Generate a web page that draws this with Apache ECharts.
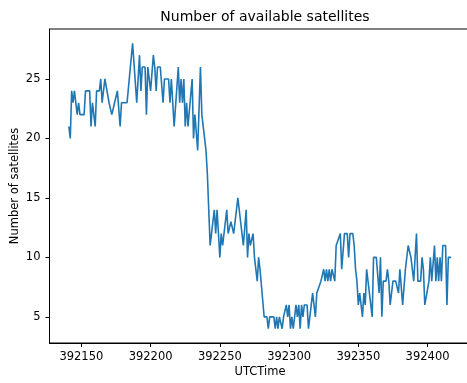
<!DOCTYPE html>
<html>
<head>
<meta charset="utf-8">
<script src="https://cdn.jsdelivr.net/npm/echarts@6/dist/echarts.min.js"></script>
<style>html,body{margin:0;padding:0;background:#fff}#c{width:467px;height:383px}</style>
</head>
<body>
<div id="c"></div>
<script>
// UTCTime (seconds) and number of satellites
var times = [
392141,392142,392143,392144,392145,392146,392147,392148,392149,392152,392153,392156,392157,392158,392160,392161,392163,392164,392165,392167,392168,392170,392172,392173,392174,392176,392178,392179,392183,392187,392190,392192,392193,392194,392196,392197,392198,392199,392200,392202,392203,392204,392205,392207,392209,392210,392213,392214,392215,392217,392218,392220,392221,392222,392223,392224,392225,392226,392227,392230,392231,392232,392234,392236,392237,392239,392240,392241,392242,392243,
392244,392245,392246,392247,392248,392250,392251,392252,392255,392256,392258,392259,392260,392263,392264,392267,392269,392270,392271,392272,392274,392275,392276,392277,392278,392279,392280,392282,392284,392285,392286,392289,392290,392291,392292,392293,392295,392296,392297,392298,392299,392300,392301,392302,392303,392304,392305,392306,392307,392308,392309,392310,392311,392313,392314,392315,392316,392317,392319,392320,392321,392323,392324,392325,392326,392327,392328,392329,392330,392331,392332,392333,392334,392335,392337,392338,392339,392340,392342,392343,392344,392346,392347,392348,392349,392350,392351,392352,392353,392354,392355,392356,392357,392358,392360,392361,392363,392365,392366,392367,392368,392370,392371,392372,392373,392375,392377,392379,392380,392381,392382,392384,392385,392386,392388,392389,392390,392392,392393,392395,392396,392397,392398,392399,392401,392402,392403,392405,392406,392407,392408,392409,392410,392411,392413,392414,392415,392417
];
var satellites = [
21,20,24,23,24,24,22,23,22,22,24,24,21,23,21,24,24,25,23,25,25,23,22,22,23,24,21,23,23,28,23,27,24,26,26,22,26,26,24,27,26,24,26,26,23,25,25,23,25,21,21,26,23,25,23,25,21,23,21,25,20,22,19,26,22,20,19,17,14,11,
12,13,14,12,14,10,12,11,14,12,13,13,12,15,15,11,14,10,12,11,12,10,10,8,10,9,9,5,5,4,5,5,4,5,4,5,4,5,5,6,5,6,4,5,4,4,6,5,6,4,6,5,6,6,4,5,6,7,5,7,7,8,8,9,8,9,8,9,8,9,9,8,11,11,12,9,9,12,12,10,12,12,11,9,8,6,7,6,5,7,6,9,8,8,5,10,10,7,10,5,8,8,9,8,6,8,8,7,9,9,6,9,9,11,10,9,8,12,8,8,10,9,6,6,8,10,8,11,8,10,8,10,8,11,11,6,10,10
];
var xTicks = [392150,392200,392250,392300,392350,392400];
var yTicks = [5,10,15,20,25];

var data = times.map(function(t,i){return [t, satellites[i]];});
var font = 'DejaVu Sans';
var chart = echarts.init(document.getElementById('c'), null, {renderer:'canvas'});
chart.setOption({
  animation:false,
  backgroundColor:'#fff',
  title:{text:'Number of available satellites', left:260, textAlign:'center', top:5,
    textStyle:{fontFamily:font, fontSize:14, fontWeight:'normal', color:'#000'}},
  grid:{left:49.5, top:29, width:421, height:314, containLabel:false, outerBoundsMode:'none',
    show:true, borderColor:'#000', borderWidth:1, backgroundColor:'transparent'},
  xAxis:{type:'value', min:392127, max:392431, name:'UTCTime', nameLocation:'middle', nameGap:23,
    nameMoveOverlap:false,
    nameTextStyle:{fontFamily:font, fontSize:11.5, color:'#000'},
    axisLine:{show:true, onZero:false, lineStyle:{color:'#000', width:1}},
    axisTick:{show:true, length:4, customValues:xTicks, lineStyle:{color:'#000'}},
    axisLabel:{customValues:xTicks, margin:8, fontFamily:font, fontSize:11.5, color:'#000',
      formatter:function(v){return String(v);}},
    splitLine:{show:false}},
  yAxis:{type:'value', min:2.8, max:29.2, name:'Number of satellites', nameLocation:'middle', nameGap:28,
    nameMoveOverlap:false,
    nameTextStyle:{fontFamily:font, fontSize:11.5, color:'#000'},
    axisLine:{show:true, onZero:false, lineStyle:{color:'#000', width:1}},
    axisTick:{show:true, length:4, customValues:yTicks, lineStyle:{color:'#000'}},
    axisLabel:{customValues:yTicks, margin:9, fontFamily:font, fontSize:11.5, color:'#000',
      formatter:function(v){return String(v);}},
    splitLine:{show:false}},
  series:[{type:'line', data:data, showSymbol:false, symbol:'none',
    lineStyle:{color:'#1f77b4', width:1.6}, itemStyle:{color:'#1f77b4'}}]
});
</script>
</body>
</html>
